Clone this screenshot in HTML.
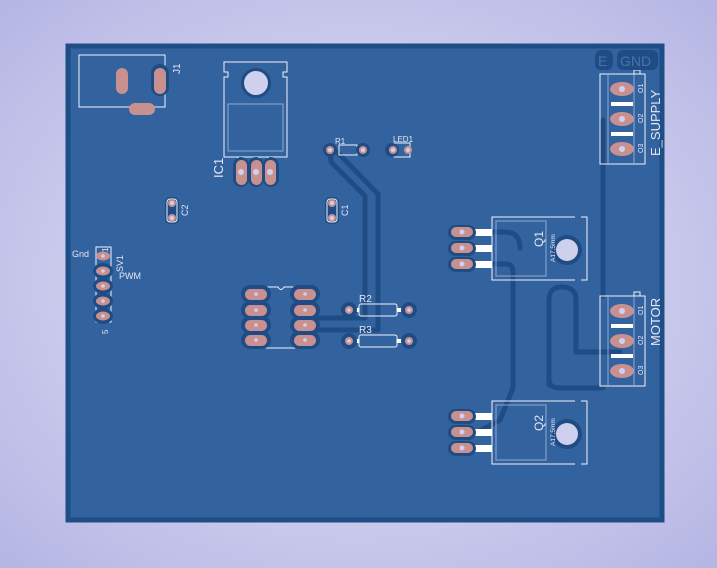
<!DOCTYPE html>
<html><head><style>
html,body{margin:0;padding:0;}
body{width:717px;height:568px;overflow:hidden;background:radial-gradient(ellipse at center,#dcdcf2 0%,#c9c9ec 60%,#b5b5e4 100%);}
svg{position:absolute;left:0;top:0;}
text{font-family:"Liberation Sans",sans-serif;fill:#e6e6f6;}
</style></head><body>
<svg width="717" height="568" viewBox="0 0 717 568">
<rect x="68" y="46" width="594" height="474" fill="#33639e" stroke="#1e4e86" stroke-width="5"/>
<g fill="none" stroke="#1f4c84" stroke-width="5" stroke-linecap="round" stroke-linejoin="round">
<path d="M330 150 L331 162 L365 196 L365 318 L310 318"/>
<path d="M337 152 L378 194 L378 330 L310 330"/>
<path d="M603 120 L603 296"/>
<path d="M470 264 L506 264 Q513 264 513 272 L513 388 L500 420 L478 432"/>
<path d="M470 232 L505 232 Q520 232 520 248"/>
<path d="M549 385 L549 300 Q549 287 562 287 Q576 287 576 300 L576 352 L603 352"/>
<path d="M549 380 Q549 388 560 388 L603 388"/>
<path d="M603 352 L620 352"/>
</g>
<rect x="79" y="55" width="86" height="52" fill="none" stroke="#f0f0fa" stroke-width="1"/>
<rect x="151" y="64" width="18" height="32" rx="9" fill="#1f4c84"/>
<rect x="116" y="68" width="12" height="26" rx="6" fill="#c8908e"/>
<rect x="154" y="68" width="12" height="26" rx="6" fill="#c8908e"/>
<rect x="129" y="103" width="26" height="12" rx="6" fill="#c8908e"/>
<text transform="translate(180,74) rotate(-90)" font-size="10">J1</text>
<path d="M224 62 H287 V72 H283 V77 H287 V157 H224 V77 H228 V72 H224 Z" fill="none" stroke="#f0f0fa"/>
<rect x="228" y="104" width="55" height="47" fill="none" stroke="#8fa9d0"/>
<circle cx="256" cy="83" r="15" fill="#1f4c84"/>
<circle cx="256" cy="83" r="12" fill="#cfd0ee"/>
<g fill="#fff"><rect x="237" y="157" width="7" height="8"/><rect x="253" y="157" width="7" height="8"/><rect x="267" y="157" width="7" height="8"/></g>
<g fill="#1f4c84"><rect x="233" y="157" width="16" height="30" rx="8"/><rect x="248" y="157" width="16" height="30" rx="8"/><rect x="263" y="157" width="16" height="30" rx="8"/></g>
<g fill="#c8908e"><rect x="236" y="160" width="11" height="25" rx="5.5"/><rect x="251" y="160" width="11" height="25" rx="5.5"/><rect x="265" y="160" width="11" height="25" rx="5.5"/></g>
<g fill="#cfd0ee"><circle cx="241" cy="172" r="3"/><circle cx="256" cy="172" r="3"/><circle cx="270" cy="172" r="3"/></g>
<text transform="translate(223,178) rotate(-90)" font-size="13">IC1</text>
<rect x="339" y="145" width="18" height="10" fill="none" stroke="#f0f0fa"/>
<circle cx="330" cy="150" r="7" fill="#1f4c84"/><circle cx="330" cy="150" r="4" fill="#c8908e"/><circle cx="330" cy="150" r="2" fill="#cfd0ee"/>
<circle cx="363" cy="150" r="7" fill="#1f4c84"/><circle cx="363" cy="150" r="4" fill="#c8908e"/><circle cx="363" cy="150" r="2" fill="#cfd0ee"/>
<text x="335" y="144" font-size="8">R1</text>
<rect x="394" y="143" width="16" height="14" fill="none" stroke="#f0f0fa"/>
<circle cx="392" cy="150" r="7" fill="#1f4c84"/><circle cx="393" cy="150" r="4" fill="#c8908e"/><circle cx="393" cy="150" r="2" fill="#cfd0ee"/>
<circle cx="408" cy="150" r="4" fill="#c8908e"/><circle cx="408" cy="150" r="2" fill="#cfd0ee"/>
<text x="393" y="142" font-size="8">LED1</text>
<g>
<rect x="165" y="197" width="14" height="27" rx="5" fill="#1f4c84"/>
<rect x="167" y="199" width="10" height="23" rx="3" fill="none" stroke="#f0f0fa"/>
<circle cx="172" cy="203" r="4" fill="#c8908e"/><circle cx="172" cy="218" r="4" fill="#c8908e"/>
<circle cx="172" cy="203" r="2" fill="#cfd0ee"/><circle cx="172" cy="218" r="2" fill="#cfd0ee"/>
<text transform="translate(188,216) rotate(-90)" font-size="9">C2</text>
<rect x="325" y="197" width="14" height="27" rx="5" fill="#1f4c84"/>
<rect x="327" y="199" width="10" height="23" rx="3" fill="none" stroke="#f0f0fa"/>
<circle cx="332" cy="203" r="4" fill="#c8908e"/><circle cx="332" cy="218" r="4" fill="#c8908e"/>
<circle cx="332" cy="203" r="2" fill="#cfd0ee"/><circle cx="332" cy="218" r="2" fill="#cfd0ee"/>
<text transform="translate(348,216) rotate(-90)" font-size="9">C1</text>
</g>
<rect x="96" y="247" width="15" height="75" fill="none" stroke="#f0f0fa"/>
<g fill="#1f4c84"><ellipse cx="103" cy="271" rx="10" ry="8"/><ellipse cx="103" cy="286" rx="10" ry="8"/><ellipse cx="103" cy="301" rx="10" ry="8"/><ellipse cx="103" cy="316" rx="10" ry="8"/></g>
<g fill="#c8908e"><ellipse cx="103" cy="256" rx="7" ry="4.5"/><ellipse cx="103" cy="271" rx="7" ry="4.5"/><ellipse cx="103" cy="286" rx="7" ry="4.5"/><ellipse cx="103" cy="301" rx="7" ry="4.5"/><ellipse cx="103" cy="316" rx="7" ry="4.5"/></g>
<g fill="#cfd0ee"><circle cx="103" cy="256" r="1.8"/><circle cx="103" cy="271" r="1.8"/><circle cx="103" cy="286" r="1.8"/><circle cx="103" cy="301" r="1.8"/><circle cx="103" cy="316" r="1.8"/></g>
<text x="72" y="257" font-size="9">Gnd</text>
<text transform="translate(123,272) rotate(-90)" font-size="9">SV1</text>
<text x="119" y="279" font-size="9">PWM</text>
<text transform="translate(108,252) rotate(-90)" font-size="8">1</text>
<text transform="translate(108,334) rotate(-90)" font-size="8">5</text>
<path d="M264 287 H278 Q281 292 284 287 H298 M264 348 H298" stroke="#f0f0fa" fill="none"/>
<g fill="#1f4c84">
<rect x="241" y="285" width="30" height="18" rx="9"/><rect x="241" y="301" width="30" height="18" rx="9"/><rect x="241" y="316" width="30" height="18" rx="9"/><rect x="241" y="331" width="30" height="18" rx="9"/>
<rect x="290" y="285" width="30" height="18" rx="9"/><rect x="290" y="301" width="30" height="18" rx="9"/><rect x="290" y="316" width="30" height="18" rx="9"/><rect x="290" y="331" width="30" height="18" rx="9"/>
</g>
<g fill="#c8908e">
<rect x="245" y="289" width="22" height="11" rx="5.5"/><rect x="245" y="305" width="22" height="11" rx="5.5"/><rect x="245" y="320" width="22" height="11" rx="5.5"/><rect x="245" y="335" width="22" height="11" rx="5.5"/>
<rect x="294" y="289" width="22" height="11" rx="5.5"/><rect x="294" y="305" width="22" height="11" rx="5.5"/><rect x="294" y="320" width="22" height="11" rx="5.5"/><rect x="294" y="335" width="22" height="11" rx="5.5"/>
</g>
<g fill="#cfd0ee"><circle cx="256" cy="294" r="1.8"/><circle cx="256" cy="310" r="1.8"/><circle cx="256" cy="325" r="1.8"/><circle cx="256" cy="340" r="1.8"/><circle cx="305" cy="294" r="1.8"/><circle cx="305" cy="310" r="1.8"/><circle cx="305" cy="325" r="1.8"/><circle cx="305" cy="340" r="1.8"/></g>
<g>
<rect x="359" y="304" width="38" height="12" rx="2" fill="none" stroke="#f0f0fa"/>
<rect x="353" y="308" width="6" height="4" fill="#fff"/><rect x="397" y="308" width="6" height="4" fill="#fff"/>
<circle cx="349" cy="310" r="8" fill="#1f4c84"/><circle cx="409" cy="310" r="8" fill="#1f4c84"/>
<circle cx="349" cy="310" r="4" fill="#c8908e"/><circle cx="409" cy="310" r="4" fill="#c8908e"/>
<circle cx="349" cy="310" r="1.8" fill="#cfd0ee"/><circle cx="409" cy="310" r="1.8" fill="#cfd0ee"/>
<text x="359" y="302" font-size="10">R2</text>
<rect x="359" y="335" width="38" height="12" rx="2" fill="none" stroke="#f0f0fa"/>
<rect x="353" y="339" width="6" height="4" fill="#fff"/><rect x="397" y="339" width="6" height="4" fill="#fff"/>
<circle cx="349" cy="341" r="8" fill="#1f4c84"/><circle cx="409" cy="341" r="8" fill="#1f4c84"/>
<circle cx="349" cy="341" r="4" fill="#c8908e"/><circle cx="409" cy="341" r="4" fill="#c8908e"/>
<circle cx="349" cy="341" r="1.8" fill="#cfd0ee"/><circle cx="409" cy="341" r="1.8" fill="#cfd0ee"/>
<text x="359" y="333" font-size="10">R3</text>
</g>
<g id="q1">
<path d="M492 217 H587 V280 H492 Z" fill="none" stroke="#f0f0fa"/>
<rect x="496" y="221" width="50" height="55" fill="none" stroke="#8fa9d0"/>
<rect x="575" y="216" width="6" height="4" fill="#33639e"/><rect x="575" y="277" width="6" height="4" fill="#33639e"/>
<circle cx="567" cy="250" r="15" fill="#1f4c84"/><circle cx="567" cy="250" r="11" fill="#cfd0ee"/>
<g fill="#fff"><rect x="475" y="229" width="17" height="7"/><rect x="475" y="245" width="17" height="7"/><rect x="475" y="261" width="17" height="7"/></g>
<g fill="#1f4c84"><rect x="448" y="225" width="28" height="15" rx="7.5"/><rect x="448" y="241" width="28" height="15" rx="7.5"/><rect x="448" y="257" width="28" height="15" rx="7.5"/></g>
<g fill="#c8908e"><rect x="451" y="227" width="22" height="10" rx="5"/><rect x="451" y="243" width="22" height="10" rx="5"/><rect x="451" y="259" width="22" height="10" rx="5"/></g>
<g fill="#cfd0ee"><circle cx="462" cy="232" r="2.5"/><circle cx="462" cy="248" r="2.5"/><circle cx="462" cy="264" r="2.5"/></g>
<text transform="translate(555,262) rotate(-90)" font-size="6.5">A17,5mm</text>
</g>
<use href="#q1" transform="translate(0,184)"/>
<text transform="translate(543,247) rotate(-90)" font-size="12">Q1</text>
<text transform="translate(543,431) rotate(-90)" font-size="12">Q2</text>
<g id="conn">
<rect x="600" y="74" width="45" height="90" fill="none" stroke="#f0f0fa"/>
<line x1="608" y1="74" x2="608" y2="164" stroke="#8fa9d0"/><line x1="634" y1="74" x2="634" y2="164" stroke="#8fa9d0"/>
<rect x="634" y="70" width="6" height="4" fill="none" stroke="#f0f0fa"/>
<rect x="611" y="102" width="22" height="4" fill="#fff"/><rect x="611" y="132" width="22" height="4" fill="#fff"/>
<g fill="#c8908e"><ellipse cx="622" cy="89" rx="12" ry="7"/><ellipse cx="622" cy="119" rx="12" ry="7"/><ellipse cx="622" cy="149" rx="12" ry="7"/></g>
<g fill="#cfd0ee"><circle cx="622" cy="89" r="3"/><circle cx="622" cy="119" r="3"/><circle cx="622" cy="149" r="3"/></g>
<text transform="translate(643,93) rotate(-90)" font-size="7">O1</text>
<text transform="translate(643,123) rotate(-90)" font-size="7">O2</text>
<text transform="translate(643,153) rotate(-90)" font-size="7">O3</text>
</g>
<use href="#conn" transform="translate(0,222)"/>
<text transform="translate(660,156) rotate(-90)" font-size="13">E_SUPPLY</text>
<text transform="translate(660,346) rotate(-90)" font-size="13">MOTOR</text>
<rect x="595" y="50" width="18" height="20" rx="6" fill="#1f4c84"/>
<rect x="617" y="50" width="41" height="20" rx="6" fill="#1f4c84"/>
<text x="598" y="66" font-size="14" style="fill:#4a72a8">E</text>
<text x="620" y="66" font-size="14" style="fill:#4a72a8">GND</text>
</svg>
</body></html>
